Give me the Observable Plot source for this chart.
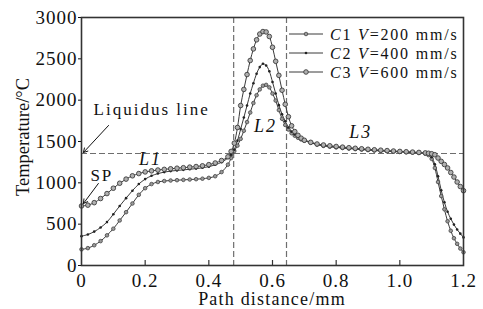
<!DOCTYPE html>
<html><head><meta charset="utf-8">
<script src="https://cdn.jsdelivr.net/npm/d3@7"></script>
<script src="https://cdn.jsdelivr.net/npm/@observablehq/plot@0.6"></script>
<style>
body{margin:0;background:#fff}
#chart svg{font-family:"Liberation Serif","Times New Roman",serif}
</style>
</head><body><div id="chart"></div>
<script>
// ---- data ----
const pathDistance = [
  0,0.02,0.04,0.06,0.08,0.10,0.12,0.14,0.16,0.18,0.20,0.22,0.24,0.26,0.28,0.30,0.32,0.34,0.36,0.38,0.40,0.42,0.44,0.46,
  0.47,0.48,0.49,0.50,0.51,0.52,0.53,0.54,0.55,0.56,0.57,0.58,0.59,0.60,0.61,0.62,0.63,0.64,0.65,0.66,0.67,0.68,0.69,0.70,
  0.72,0.74,0.76,0.78,0.80,0.82,0.84,0.86,0.88,0.90,0.92,0.94,0.96,0.98,1.00,1.02,1.04,1.06,1.08,
  1.09,1.10,1.11,1.12,1.13,1.14,1.15,1.16,1.17,1.18,1.19,1.20
];
const tempC1 = [
  195,210,245,295,365,445,545,645,750,855,935,985,1010,1022,1028,1032,1036,1040,1044,1050,1060,1080,1130,1220,
  1300,1385,1450,1532,1630,1735,1850,1965,2060,2130,2175,2185,2155,2080,1995,1880,1775,1700,1645,1600,1570,1545,1525,1510,
  1485,1462,1447,1437,1428,1421,1414,1408,1402,1396,1391,1386,1382,1378,1374,1370,1366,1361,1352,
  1335,1290,1180,1010,840,680,535,420,330,262,205,160
];
const tempC2 = [
  355,375,410,460,525,620,720,815,905,985,1045,1085,1112,1130,1142,1150,1157,1164,1172,1182,1196,1218,1250,1300,
  1340,1400,1510,1650,1790,1935,2080,2205,2320,2400,2440,2420,2350,2220,2080,1940,1830,1745,1670,1620,1585,1560,1540,1522,
  1490,1465,1450,1440,1432,1425,1418,1412,1406,1400,1395,1390,1385,1381,1377,1373,1369,1364,1356,
  1345,1310,1225,1080,910,765,650,565,495,435,385,340
];
const tempC3 = [
  720,730,760,810,870,935,995,1045,1085,1112,1132,1145,1155,1163,1170,1177,1183,1190,1197,1206,1220,1240,1270,1315,
  1380,1480,1670,1935,2130,2310,2480,2620,2730,2800,2830,2825,2770,2640,2470,2300,2120,1950,1800,1690,1620,1575,1540,1515,
  1490,1470,1458,1448,1440,1432,1425,1418,1412,1406,1400,1395,1390,1385,1380,1376,1372,1368,1362,
  1358,1352,1340,1300,1260,1222,1180,1125,1070,1010,955,905
];
const seriesNames = ["C1","C2","C3"];
const seriesSpeeds = ["200","400","600"];
const xTicks = [0,0.2,0.4,0.6,0.8,1.0,1.2];
const xTickLabels = ["0","0.2","0.4","0.6","0.8","1.0","1.2"];
const yTicks = [0,500,1000,1500,2000,2500,3000];
const yTickLabels = ["0","500","1000","1500","2000","2500","3000"];
const liquidusTemp = [1355];
const zoneBounds = [0.478,0.644];
const annotationText = ["Liquidus line","SP","L1","L2","L3"];
const annotationX = [0.038,0.028,0.217,0.578,0.877];
const annotationY = [1815,1028,1210,1609,1548];
const arrowFrom = [[0.085,1694],[0.053,992]];
const arrowTo = [[0.006,1367],[0.006,750]];

// ---- build tables ----
const temps = [tempC1,tempC2,tempC3];
const series = seriesNames.map((s,k)=>pathDistance.map((x,i)=>({x, t: temps[k][i], s})));
const annotations = annotationText.map((text,i)=>({text, x: annotationX[i], y: annotationY[i], italic: text.startsWith("L") && text !== "Liquidus line"}));
const arrows = arrowFrom.map((a,i)=>({x1:a[0], y1:a[1], x2:arrowTo[i][0], y2:arrowTo[i][1]}));

const W=483, H=309, mL=81, mR=20, mT=17, mB=44;
const innerH = H - mT - mB;
const lineColor = "#3a3a3a";
const dashColor = "#6e6e6e";
const mk = [
  {r: 1.8, fill: "#9a9a9a", stroke: "#444", sw: 0.8},
  {r: 1.3, fill: "#222", stroke: "none", sw: 0},
  {r: 2.3, fill: "#b0b0b0", stroke: "#3c3c3c", sw: 0.9}
];

const plot = Plot.plot({
  width: W, height: H,
  marginLeft: mL, marginRight: mR, marginTop: mT, marginBottom: mB,
  style: {fontFamily: '"Liberation Serif","Times New Roman",serif', fontSize: "19px", color: "#111", background: "#fff", overflow: "visible"},
  x: {domain: [0, 1.2]},
  y: {domain: [0, 3000]},
  marks: [
    Plot.ruleY(liquidusTemp, {stroke: dashColor, strokeWidth: 1.2, strokeDasharray: "6,3"}),
    Plot.ruleX(zoneBounds, {stroke: dashColor, strokeWidth: 1.2, strokeDasharray: "6,3"}),
    ...series.map(d => Plot.line(d, {x: "x", y: "t", stroke: lineColor, strokeWidth: 1, curve: "catmull-rom"})),
    ...series.map((d, k) => Plot.dot(d, {x: "x", y: "t", r: mk[k].r, fill: mk[k].fill, stroke: mk[k].stroke, strokeWidth: mk[k].sw})),
    Plot.axisX({ticks: xTicks, tickFormat: d => xTickLabels[xTicks.indexOf(d)], tickSize: 0, tickPadding: 8, label: null}),
    Plot.ruleX(xTicks.slice(1, -1), {insetTop: innerH - 5, stroke: "#333", strokeWidth: 1.2}),
    Plot.axisY({ticks: yTicks, tickFormat: d => yTickLabels[yTicks.indexOf(d)], tickSize: 3, tickPadding: 1, label: null}),
    Plot.frame({stroke: "#333", strokeWidth: 1.6}),
    Plot.text(annotations.filter(d => !d.italic), {x: "x", y: "y", text: "text", textAnchor: "start", lineAnchor: "bottom", fontSize: 17, fill: "#111"}),
    Plot.text(annotations.filter(d => d.italic), {x: "x", y: "y", text: "text", textAnchor: "middle", lineAnchor: "bottom", fontSize: 18, fontStyle: "italic", fill: "#111"}),
    Plot.arrow(arrows, {x1: "x1", y1: "y1", x2: "x2", y2: "y2", stroke: "#111", strokeWidth: 1, headLength: 7})
  ]
});

const svg = d3.select(plot);
svg.selectAll('g[aria-label="x-axis tick label"] text').style("letter-spacing", "1px");
svg.selectAll('g[aria-label="y-axis tick label"] text').style("letter-spacing", "1px");
svg.selectAll('g[aria-label="text"] text').style("letter-spacing", "2px");

// axis titles
svg.append("text")
  .attr("x", mL + (W - mL - mR) / 2).attr("y", 305)
  .attr("text-anchor", "middle").attr("font-size", 18).style("letter-spacing", "1.2px")
  .attr("fill", "#111").text("Path distance/mm");
svg.append("text")
  .attr("transform", `translate(29,${(mT + H - mB) / 2 - 4}) rotate(-90)`)
  .attr("text-anchor", "middle").attr("font-size", 18.5)
  .attr("fill", "#111").text("Temperature/°C");

// legend (inside plot, upper right)
const legendRowY = [34, 53, 72];
const lg = svg.append("g").attr("aria-label", "legend");
seriesNames.forEach((name, k) => {
  const y = legendRowY[k];
  lg.append("line").attr("x1", 289).attr("x2", 323).attr("y1", y).attr("y2", y).attr("stroke", lineColor).attr("stroke-width", 1);
  const m = mk[k];
  lg.append("circle").attr("cx", 306).attr("cy", y).attr("r", m.r).attr("fill", m.fill).attr("stroke", m.stroke).attr("stroke-width", m.sw);
  const t = lg.append("text").attr("x", 330).attr("y", y + 5.5).attr("text-anchor", "start")
    .attr("font-size", 16).attr("fill", "#111").style("letter-spacing", "1.8px");
  t.append("tspan").attr("font-style", "italic").text(name[0]);
  t.append("tspan").text(name.slice(1) + " ");
  t.append("tspan").attr("font-style", "italic").text("V");
  t.append("tspan").text("=" + seriesSpeeds[k] + " mm/s");
});

document.getElementById("chart").appendChild(plot);
</script>
</body></html>
